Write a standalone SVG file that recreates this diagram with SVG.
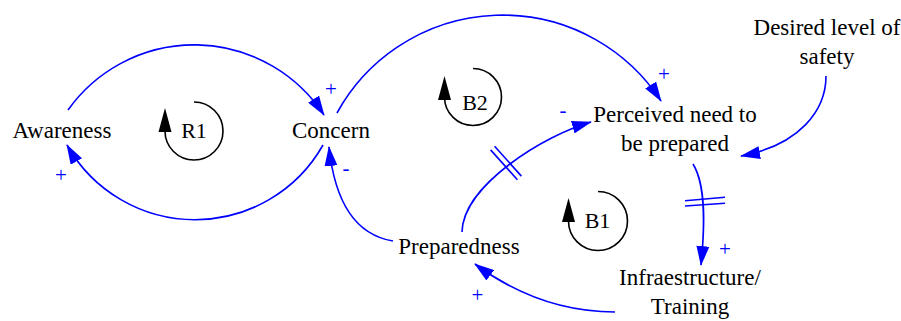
<svg xmlns="http://www.w3.org/2000/svg" width="901" height="321" viewBox="0 0 901 321">
<style>
text{font-family:"Liberation Serif","DejaVu Serif","Noto Serif",serif}
.node text{font-size:23px;fill:#000;text-anchor:middle}
.lbl{font-size:22px;fill:#000;text-anchor:middle}
.pol{font-size:21px;fill:#0000FF;text-anchor:middle}
.c{fill:none;stroke:#0000FF;stroke-width:1.6;marker-end:url(#ah)}
.d{stroke:#0000FF;stroke-width:1.6}
.loop{fill:none;stroke:#000;stroke-width:1.6}
</style>
<defs>
<marker id="ah" viewBox="0 0 20 13" refX="19" refY="6.5" markerWidth="20" markerHeight="13" markerUnits="userSpaceOnUse" orient="auto">
<path d="M0,0 L20,6.5 L0,13 z" fill="#0000FF"/>
</marker>
</defs>
<rect width="901" height="321" fill="#fff"/>
<g id="connectors">
<path class="c" d="M68,110 A155,155 0 0,1 324,115"/>
<path class="c" d="M323,145 A147,147 0 0,1 67,145"/>
<path class="c" d="M393,241 Q338,232 329,147"/>
<path class="c" d="M462,232 C463,185 545,135 591,122"/>
<path class="c" d="M337,113 A189,189 0 0,1 661,101"/>
<path class="c" d="M826,76 C826,110 800,145 741,156"/>
<path class="c" d="M693,164 C706,185 705,225 701,265"/>
<path class="c" d="M615,312 Q540,312 475,264"/>
<line class="d" x1="490.6" y1="149.9" x2="517.4" y2="179.7"/>
<line class="d" x1="494.6" y1="146.3" x2="521.4" y2="176.1"/>
<line class="d" x1="685" y1="200.7" x2="725" y2="197.3"/>
<line class="d" x1="685" y1="206" x2="725" y2="203.3"/>
<text class="pol" x="331" y="96" font-family="Liberation Serif, serif">+</text>
<text class="pol" x="61" y="182" font-family="Liberation Serif, serif">+</text>
<text class="pol" x="346" y="175" font-family="Liberation Serif, serif">-</text>
<text class="pol" x="664" y="81" font-family="Liberation Serif, serif">+</text>
<text class="pol" x="563" y="117" font-family="Liberation Serif, serif">-</text>
<text class="pol" x="725" y="256" font-family="Liberation Serif, serif">+</text>
<text class="pol" x="477.5" y="302" font-family="Liberation Serif, serif">+</text>
</g>
<g id="awareness" class="node"><text x="62" y="138" font-family="Liberation Serif, serif">Awareness</text></g>
<g id="concern" class="node"><text x="331" y="138" font-family="Liberation Serif, serif">Concern</text></g>
<g id="perceived" class="node"><text x="675" y="122" font-family="Liberation Serif, serif">Perceived need to</text><text x="675" y="151" font-family="Liberation Serif, serif">be prepared</text></g>
<g id="desired" class="node"><text x="827" y="35" font-family="Liberation Serif, serif">Desired level of</text><text x="827" y="64" font-family="Liberation Serif, serif">safety</text></g>
<g id="preparedness" class="node"><text x="459" y="254" font-family="Liberation Serif, serif">Preparedness</text></g>
<g id="infra" class="node"><text x="690" y="285" font-family="Liberation Serif, serif">Infraestructure/</text><text x="690" y="314" font-family="Liberation Serif, serif">Training</text></g>
<g id="loopR1">
<path class="loop" d="M194,102 A29,29 0 1,1 165,131"/>
<polygon points="165,108 158.5,132 171.5,132" fill="#000"/>
<text class="lbl" x="194" y="138" font-family="Liberation Serif, serif">R1</text>
</g>
<g id="loopB2">
<path class="loop" d="M473,68.5 A28.5,28.5 0 1,1 444.5,97"/>
<polygon points="444.5,76 438,100 451,100" fill="#000"/>
<text class="lbl" x="475" y="110" font-family="Liberation Serif, serif">B2</text>
</g>
<g id="loopB1">
<path class="loop" d="M598,191.5 A29.5,29.5 0 1,1 568.5,221"/>
<polygon points="568.5,198 562,222 575,222" fill="#000"/>
<text class="lbl" x="597.5" y="228" font-family="Liberation Serif, serif">B1</text>
</g>
</svg>
